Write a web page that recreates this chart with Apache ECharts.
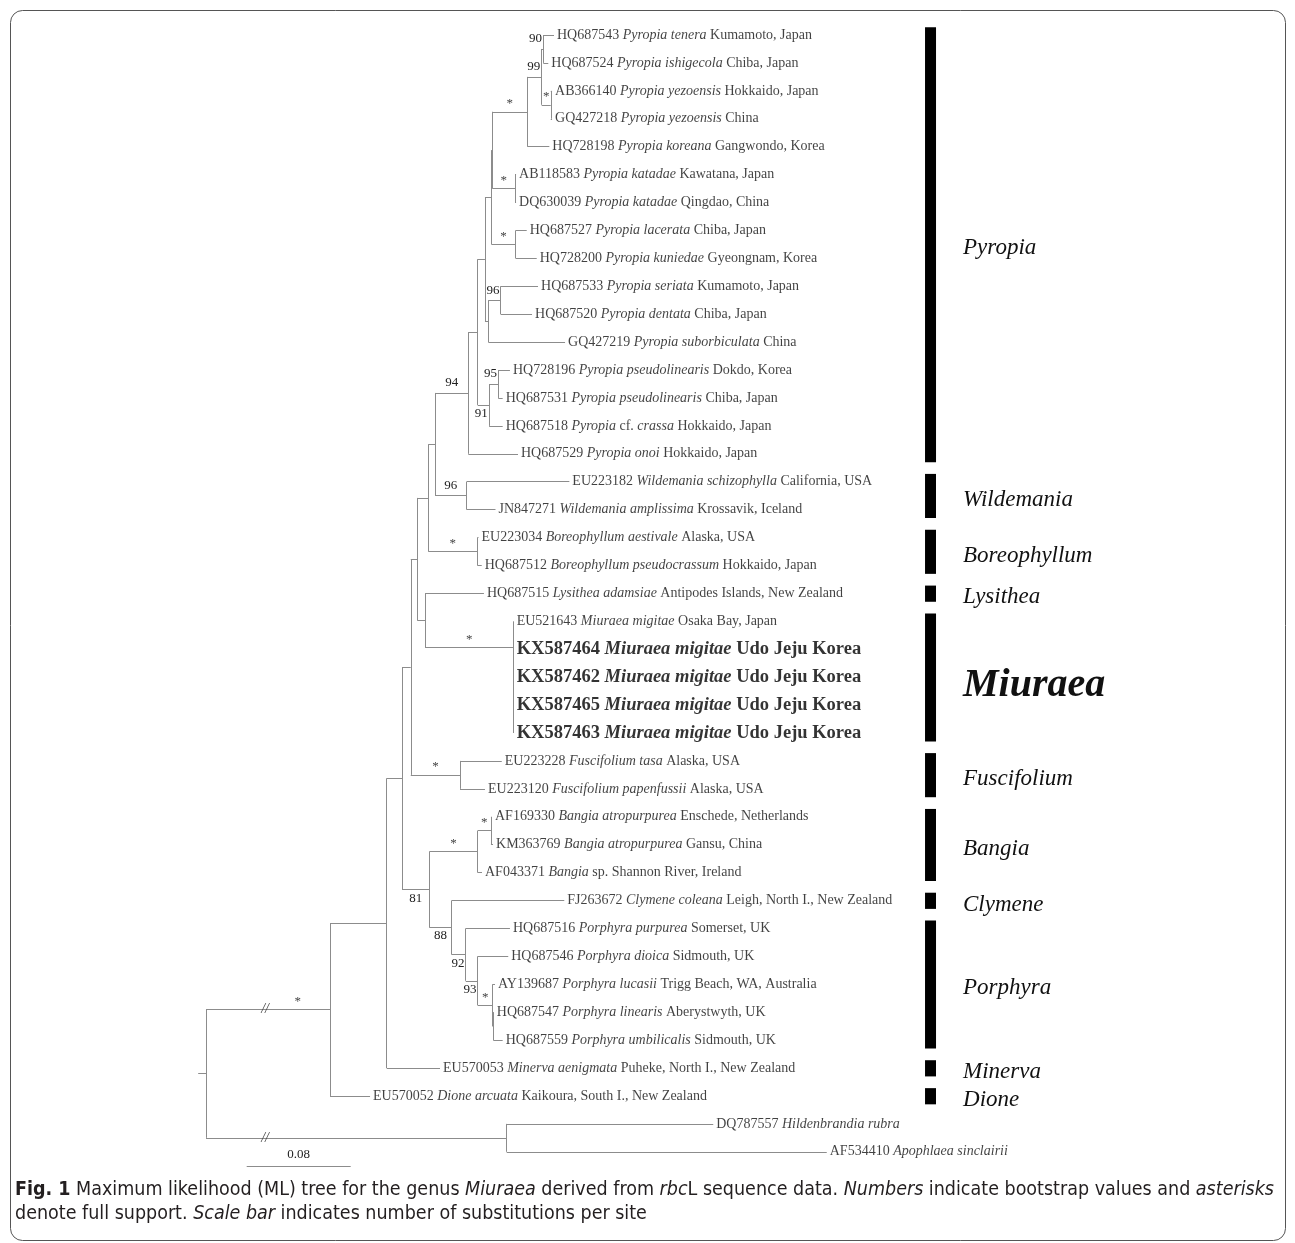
<!DOCTYPE html>
<html><head><meta charset="utf-8">
<script src="https://cdn.jsdelivr.net/npm/echarts@6/dist/echarts.min.js"></script>
<style>html,body{margin:0;padding:0;background:#fff}#c{width:1295px;height:1243px}</style>
</head><body><div id="c"></div>
<script>
// ---------------- DATA ----------------
const leafLabels = [
 'HQ687543 {i|Pyropia tenera} Kumamoto, Japan',
 'HQ687524 {i|Pyropia ishigecola} Chiba, Japan',
 'AB366140 {i|Pyropia yezoensis} Hokkaido, Japan',
 'GQ427218 {i|Pyropia yezoensis} China',
 'HQ728198 {i|Pyropia koreana} Gangwondo, Korea',
 'AB118583 {i|Pyropia katadae} Kawatana, Japan',
 'DQ630039 {i|Pyropia katadae} Qingdao, China',
 'HQ687527 {i|Pyropia lacerata} Chiba, Japan',
 'HQ728200 {i|Pyropia kuniedae} Gyeongnam, Korea',
 'HQ687533 {i|Pyropia seriata} Kumamoto, Japan',
 'HQ687520 {i|Pyropia dentata} Chiba, Japan',
 'GQ427219 {i|Pyropia suborbiculata} China',
 'HQ728196 {i|Pyropia pseudolinearis} Dokdo, Korea',
 'HQ687531 {i|Pyropia pseudolinearis} Chiba, Japan',
 'HQ687518 {i|Pyropia} cf. {i|crassa} Hokkaido, Japan',
 'HQ687529 {i|Pyropia onoi} Hokkaido, Japan',
 'EU223182 {i|Wildemania schizophylla} California, USA',
 'JN847271 {i|Wildemania amplissima} Krossavik, Iceland',
 'EU223034 {i|Boreophyllum aestivale} Alaska, USA',
 'HQ687512 {i|Boreophyllum pseudocrassum} Hokkaido, Japan',
 'HQ687515 {i|Lysithea adamsiae} Antipodes Islands, New Zealand',
 'EU521643 {i|Miuraea migitae} Osaka Bay, Japan',
 '{b|KX587464 }{bi|Miuraea migitae}{b| Udo Jeju Korea}',
 '{b|KX587462 }{bi|Miuraea migitae}{b| Udo Jeju Korea}',
 '{b|KX587465 }{bi|Miuraea migitae}{b| Udo Jeju Korea}',
 '{b|KX587463 }{bi|Miuraea migitae}{b| Udo Jeju Korea}',
 'EU223228 {i|Fuscifolium tasa} Alaska, USA',
 'EU223120 {i|Fuscifolium papenfussii} Alaska, USA',
 'AF169330 {i|Bangia atropurpurea} Enschede, Netherlands',
 'KM363769 {i|Bangia atropurpurea} Gansu, China',
 'AF043371 {i|Bangia} sp. Shannon River, Ireland',
 'FJ263672 {i|Clymene coleana} Leigh, North I., New Zealand',
 'HQ687516 {i|Porphyra purpurea} Somerset, UK',
 'HQ687546 {i|Porphyra dioica} Sidmouth, UK',
 'AY139687 {i|Porphyra lucasii} Trigg Beach, WA, Australia',
 'HQ687547 {i|Porphyra linearis} Aberystwyth, UK',
 'HQ687559 {i|Porphyra umbilicalis} Sidmouth, UK',
 'EU570053 {i|Minerva aenigmata} Puheke, North I., New Zealand',
 'EU570052 {i|Dione arcuata} Kaikoura, South I., New Zealand',
 'DQ787557 {i|Hildenbrandia rubra}',
 'AF534410 {i|Apophlaea sinclairii}'
];
// distance from root (substitutions per site) of each tip
const leafDepth = [0.2677,0.2633,0.2662,0.2662,0.2641,0.2385,0.2385,0.2467,0.2544,0.2554,
 0.2508,0.2762,0.2338,0.2282,0.2282,0.2400,0.2795,0.2227,0.2096,0.2121,
 0.2138,0.2367,0.2367,0.2367,0.2367,0.2367,0.2275,0.2146,0.2200,0.2208,
 0.2123,0.2756,0.2338,0.2325,0.2223,0.2214,0.2282,0.1800,0.1262,0.3902,0.4775];
// internal node each tip hangs from
const leafParent = [15,15,16,16,13,17,17,18,18,20,20,19,22,22,21,8,23,23,24,24,
 25,26,27,28,29,29,30,30,33,33,32,34,35,36,37,38,38,2,1,39,39];
// internal nodes (0 = root)
const nodeParent = [-1,0,1,2,3,4,5,6,7,8,9,10,11,12,13,14,14,12,11,10,
 19,9,21,7,6,5,25,26,27,28,4,3,31,32,31,34,35,36,37,0];
const nodeDepth = [0,0.0954,0.1390,0.1508,0.1575,0.1625,0.1710,0.1762,0.2018,0.2090,
 0.2146,0.2196,0.2202,0.2472,0.2582,0.2595,0.2652,0.2377,0.2382,0.2172,
 0.2267,0.2178,0.2248,0.2005,0.2088,0.1685,0.2364,0.2364,0.2364,0.2364,
 0.1954,0.1718,0.2090,0.2192,0.1890,0.1998,0.2090,0.2205,0.2210,0.2313];
const nodeSupport = ['','*','','','','','','','94','',
 '','','','*','99','90','*','*','*','',
 '96','91','95','96','*','','*','','','',
 '*','81','*','*','88','92','93','*','',''];
// clades on the right
const cladeNames = ['Pyropia','Wildemania','Boreophyllum','Lysithea','Miuraea','Fuscifolium','Bangia','Clymene','Porphyra','Minerva','Dione'];
const cladeFirst = [0,16,18,20,21,26,28,31,32,37,38];
const cladeLast  = [15,17,19,20,25,27,30,31,36,37,38];
const highlightClade = 'Miuraea';
const scaleBarLength = 0.08;
const scaleBarLabel = '0.08';
const brokenBranchNodes = [1,39];
const captionLine1 = '{b|Fig. 1} Maximum likelihood (ML) tree for the genus {i|Miuraea} derived from {i|rbc}L sequence data. {i|Numbers} indicate bootstrap values and {i|asterisks}';
const captionLine2 = 'denote full support. {i|Scale bar} indicates number of substitutions per site';

// ---------------- LAYOUT ----------------
const SERIF = "'Liberation Serif','Times New Roman',serif";
const SANS = "'Liberation Sans Narrow','DejaVu Sans Condensed','Liberation Sans',sans-serif";
const CAP_SIZE = 19.5;
const X_MIN = -0.01, X_MAX = 0.6;
const ROOT_STUB = -0.006;
const BAR_DEPTH = 0.5531;       // x of clade bars (axis units)
const BREAK_DEPTH = 0.0454;     // where the // marks sit
const SCALE_START = 0.0313, SCALE_ROW = 40.5;
const belowLabels = [21,31,34,35,36];
const alongFrac = {1:0.74, 39:0.60};

// ---------------- TREE GEOMETRY ----------------
const nN = nodeParent.length;
const kids = Array.from({length:nN},()=>[]);
leafParent.forEach((p,i)=>kids[p].push(i));
const nodeY = new Array(nN), nodeLo = new Array(nN), nodeHi = new Array(nN);
for (let id=nN-1; id>=0; id--) {
  const ys = kids[id];
  nodeLo[id] = Math.min(...ys); nodeHi[id] = Math.max(...ys);
  nodeY[id] = (nodeLo[id]+nodeHi[id])/2;
  if (nodeParent[id]>=0) kids[nodeParent[id]].push(nodeY[id]);
}
const segs = [];
leafDepth.forEach((d,i)=>segs.push([[nodeDepth[leafParent[i]], i],[d, i]]));
for (let id=0; id<nN; id++) {
  const pd = id===0 ? ROOT_STUB : nodeDepth[nodeParent[id]];
  segs.push([[pd, nodeY[id]],[nodeDepth[id], nodeY[id]]]);
  segs.push([[nodeDepth[id], nodeLo[id]],[nodeDepth[id], nodeHi[id]]]);
}
segs.push([[SCALE_START, SCALE_ROW],[SCALE_START+scaleBarLength, SCALE_ROW]]);

const supIds = [];
nodeSupport.forEach((s,id)=>{ if (s) supIds.push(id); });

const chart = echarts.init(document.getElementById('c'), null, {renderer:'canvas'});
const italicRich = {
  i:{fontStyle:'italic', fontFamily:SERIF, fontSize:14, color:'#111'},
  b:{fontWeight:'bold', fontFamily:SERIF, fontSize:18.5, color:'#000'},
  bi:{fontWeight:'bold', fontStyle:'italic', fontFamily:SERIF, fontSize:18.5, color:'#000'}
};
const capStyle = {fontFamily:SANS, fontSize:CAP_SIZE, fontWeight:'normal', color:'#231f20',
  rich:{b:{fontFamily:SANS, fontSize:CAP_SIZE, fontWeight:'bold', color:'#231f20'},
        i:{fontFamily:SANS, fontSize:CAP_SIZE, fontStyle:'italic', color:'#231f20'}}};
chart.setOption({
  animation:false,
  backgroundColor:'#fff',
  grid:{left:193, top:35, width:793, height:1116.8},
  xAxis:{type:'value', min:X_MIN, max:X_MAX, show:false},
  yAxis:{type:'value', min:0, max:40, inverse:true, show:false},
  title:[
    {text:captionLine1, left:15, top:1180, padding:0, textStyle:capStyle},
    {text:captionLine2, left:15, top:1204, padding:0, textStyle:capStyle}
  ],
  graphic:[{type:'rect', silent:true, z:-10, shape:{x:10.5, y:10.5, width:1275, height:1230, r:12},
    style:{fill:'none', stroke:'#555', lineWidth:1}}],
  series:[
    {type:'lines', coordinateSystem:'cartesian2d', silent:true, clip:false,
     lineStyle:{color:'#8c8c8c', width:1, opacity:1},
     data:segs.map(s=>({coords:s}))},
    {type:'scatter', silent:true, clip:false, symbolSize:0,
     data:leafDepth.map((d,i)=>[d,i]),
     label:{show:true, position:'right', distance:3, fontFamily:SERIF, fontSize:14, color:'#111',
       formatter:p=>leafLabels[p.dataIndex], rich:italicRich}},
    {type:'custom', silent:true, clip:false, encode:{x:0,y:1},
     data:supIds.map(id=>[nodeDepth[id], nodeY[id]]),
     renderItem:(params, api)=>{
       const id = supIds[params.dataIndex];
       const a = api.coord([nodeDepth[nodeParent[id]], nodeY[id]]);
       const b = api.coord([nodeDepth[id], nodeY[id]]);
       const txt = nodeSupport[id];
       const half = txt.length*3.4;
       let x = alongFrac[id]!=null ? a[0]+(b[0]-a[0])*alongFrac[id] : Math.min((a[0]+b[0])/2, b[0]-half-1);
       const y = belowLabels.includes(id) ? b[1]+8.5 : b[1]-(txt==='*'?8:10);
       return {type:'text', x:x, y:y, style:{text:txt, textAlign:'center', textVerticalAlign:'middle',
         fontFamily:SERIF, fontSize:13, fill:txt==='*'?'#444':'#222'}};
     }},
    {type:'custom', silent:true, clip:false, encode:{x:0,y:1},
     data:brokenBranchNodes.map(id=>[BREAK_DEPTH, nodeY[id]]),
     renderItem:(params, api)=>{
       const p = api.coord([api.value(0), api.value(1)]);
       return {type:'text', x:p[0], y:p[1], style:{text:'//', textAlign:'center', textVerticalAlign:'middle',
         fontFamily:SERIF, fontStyle:'italic', fontSize:14, fill:'#444'}};
     }},
    {type:'custom', silent:true, clip:false, encode:{x:0,y:1},
     data:[[SCALE_START+scaleBarLength/2, SCALE_ROW]],
     renderItem:(params, api)=>{
       const p = api.coord([api.value(0), api.value(1)]);
       return {type:'text', x:p[0], y:p[1]-11, style:{text:scaleBarLabel, textAlign:'center', textVerticalAlign:'middle',
         fontFamily:SERIF, fontSize:13, fill:'#222'}};
     }},
    {type:'custom', silent:true, clip:false, encode:{x:0,y:1},
     data:cladeNames.map((n,k)=>[BAR_DEPTH, (cladeFirst[k]+cladeLast[k])/2]),
     renderItem:(params, api)=>{
       const k = params.dataIndex;
       const top = api.coord([BAR_DEPTH, cladeFirst[k]-0.28]);
       const bot = api.coord([BAR_DEPTH, cladeLast[k]+0.3]);
       const mid = api.coord([BAR_DEPTH, (cladeFirst[k]+cladeLast[k])/2]);
       const hl = cladeNames[k]===highlightClade;
       return {type:'group', children:[
         {type:'rect', shape:{x:top[0], y:top[1], width:11, height:bot[1]-top[1]}, style:{fill:'#000'}},
         {type:'text', x:top[0]+38, y:mid[1]+(hl?9:4), style:{text:cladeNames[k], textAlign:'left', textVerticalAlign:'middle',
           fontFamily:SERIF, fontStyle:'italic', fontWeight:hl?'bold':'normal', fontSize:hl?40:23, fill:'#111'}}
       ]};
     }}
  ]
});
</script></body></html>
